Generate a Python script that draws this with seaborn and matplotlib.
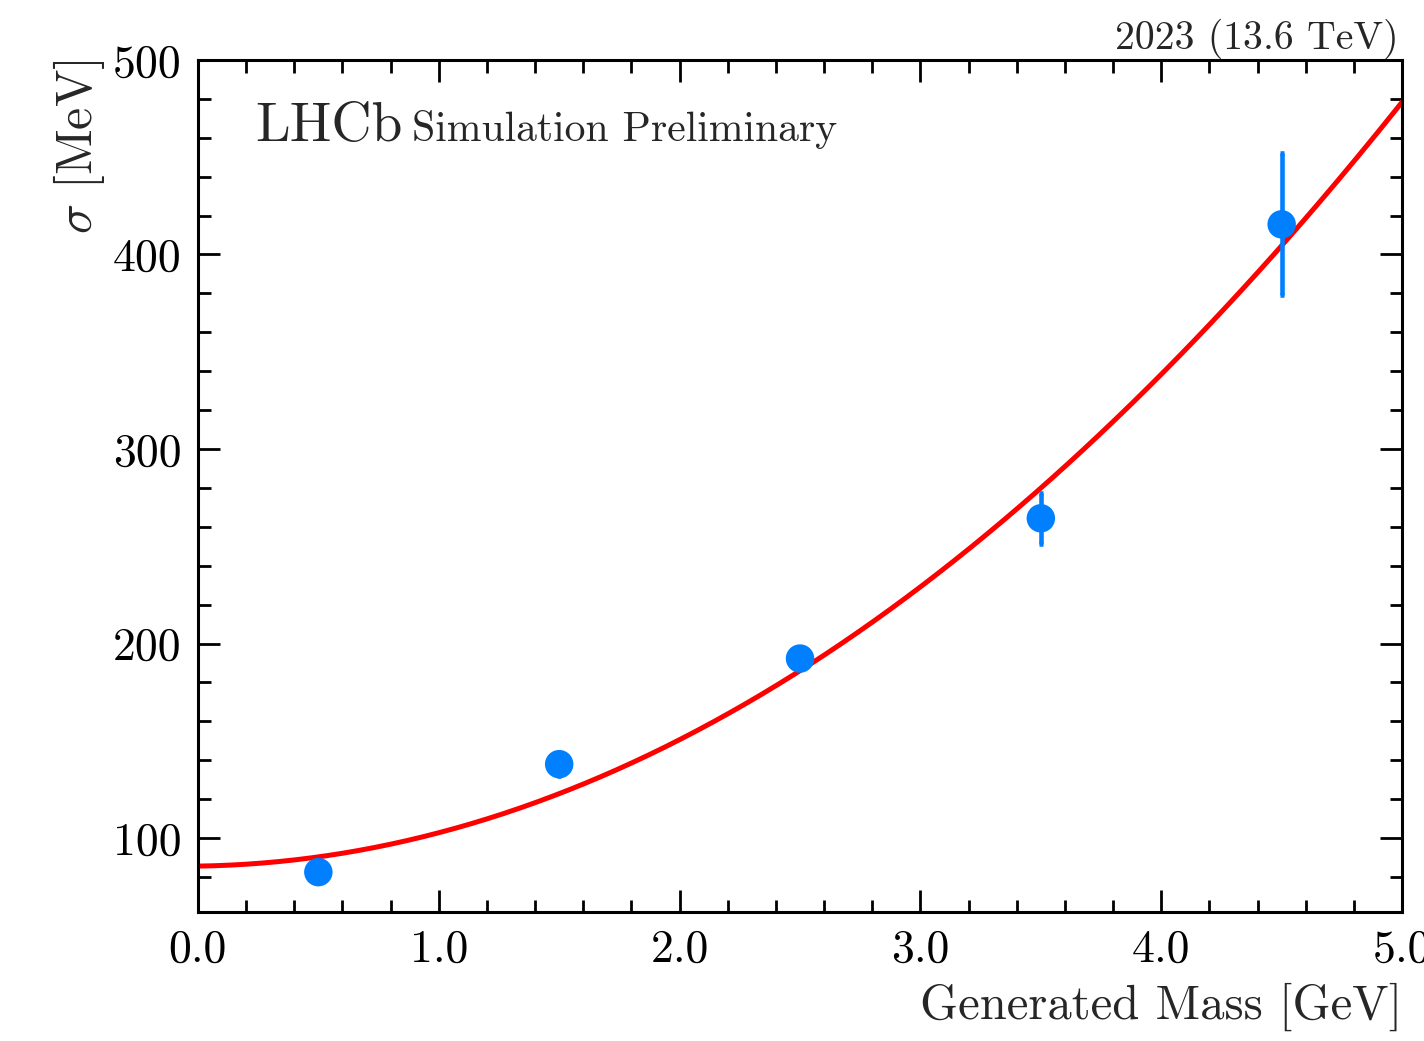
import numpy as np
import pandas as pd
import matplotlib
matplotlib.use("Agg")
import matplotlib.pyplot as plt
from matplotlib.ticker import MultipleLocator, FormatStrFormatter
import seaborn as sns

# Data
gen_mass = [0.5, 1.5, 2.5, 3.5, 4.5]          # GeV
sigma = [82.5, 138.0, 192.3, 264.4, 415.5]    # MeV
sigma_err = [3.0, 6.0, 4.0, 13.0, 36.5]       # MeV
# quadratic fit parameters: sigma = p0 + p1*m + p2*m^2
fit_params = [85.6, 1.8, 15.35]
fit_range = [0.0, 5.0]

sns.set_theme(style="ticks")
plt.rcParams.update({
    "font.family": ["cmr10", "DejaVu Serif"],
    "mathtext.fontset": "cm",
    "axes.formatter.use_mathtext": True,
    "axes.linewidth": 2.2,
})

fig = plt.figure(figsize=(14.24, 10.41), dpi=100)
ax = fig.add_axes([0.139, 0.1239, 0.8456, 0.8185])

m_fit = np.linspace(fit_range[0], fit_range[1], 300)
fit_df = pd.DataFrame({"m": m_fit,
                       "s": fit_params[0] + fit_params[1] * m_fit + fit_params[2] * m_fit ** 2})
pts = pd.DataFrame({"m": gen_mass, "s": sigma, "e": sigma_err})

blue = "#0080FF"
ax.errorbar(pts["m"], pts["s"], yerr=pts["e"], fmt="none", ecolor=blue,
            elinewidth=3.3, capsize=1.5, capthick=3.3, zorder=3)
sns.scatterplot(data=pts, x="m", y="s", ax=ax, color=blue, s=420,
                edgecolor="none", zorder=4, legend=False)
sns.lineplot(data=fit_df, x="m", y="s", ax=ax, color="#FF0000", lw=3.6,
             zorder=2, legend=False)

ax.set_xlim(0, 5.0)
ax.set_ylim(62, 500)
ax.xaxis.set_major_locator(MultipleLocator(1.0))
ax.xaxis.set_minor_locator(MultipleLocator(0.2))
ax.yaxis.set_major_locator(MultipleLocator(100))
ax.yaxis.set_minor_locator(MultipleLocator(20))
ax.xaxis.set_major_formatter(FormatStrFormatter("%.1f"))
ax.yaxis.set_major_formatter(FormatStrFormatter("%d"))
ax.tick_params(which="both", direction="in", top=True, right=True, colors="black")
ax.tick_params(which="major", length=16, width=2.0, labelsize=33, pad=12)
ax.tick_params(which="minor", length=9, width=2.0)
for sp in ax.spines.values():
    sp.set_color("black")
    sp.set_linewidth(2.2)

ax.set_xlabel("Generated Mass [GeV]", fontsize=35, loc="right", labelpad=9)
ax.set_ylabel(r"$\sigma$ [MeV]", fontsize=36, loc="top", labelpad=4)

ax.text(0.048, 0.905, "LHCb", transform=ax.transAxes, fontsize=40,
        ha="left", va="baseline")
ax.text(0.178, 0.905, "Simulation Preliminary", transform=ax.transAxes,
        fontsize=30, ha="left", va="baseline")
ax.text(0.997, 1.013, "2023 (13.6 TeV)", transform=ax.transAxes, fontsize=28.6,
        ha="right", va="baseline")

fig.savefig("out.png", dpi=100)
